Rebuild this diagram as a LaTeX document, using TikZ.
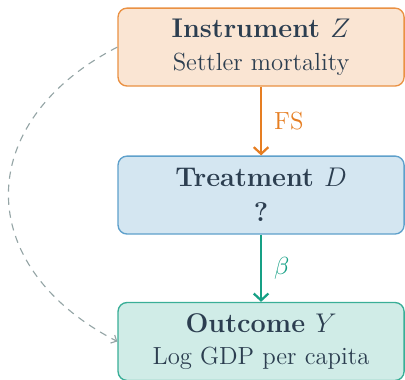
\documentclass[tikz,border=0pt]{standalone}
\usepackage{amsmath, amssymb}
\usepackage{xcolor}
\usepackage{tikz}
\usetikzlibrary{arrows.meta, positioning}

\definecolor{ivorange}{HTML}{E67E22}
\definecolor{ivblue}{HTML}{2980B9}
\definecolor{ivgreen}{HTML}{16A085}
\definecolor{ivtext}{HTML}{2C3E50}
\definecolor{ivgray}{HTML}{95A5A6}

\tikzset{
  ivbox/.style={draw, rounded corners=4pt, line width=0.6pt,
                minimum width=127pt, minimum height=34.6pt,
                align=center, text=ivtext, inner sep=2pt,
                font=\fontsize{11}{13}\selectfont},
  ivarrow/.style={line width=1pt, -{Straight Barb[length=3pt,width=6.5pt]}}
}

\begin{document}
\begin{tikzpicture}[x=1pt, y=1pt]
  \useasboundingbox (0,0) rectangle (179.8,-168.7);
  \node[ivbox, draw=ivorange!85, fill=ivorange!20] (inst) at (115.9,-20.9)
    {{\large\textbf{Instrument $Z$}}\\[1.5pt] Settler mortality};
  \node[ivbox, draw=ivblue!75, fill=ivblue!20] (treat) at (115.9,-86.6)
    {{\large\textbf{Treatment $D$}}\\[2.5pt] {\large\textbf{?}}};
  \node[ivbox, draw=ivgreen!85, fill=ivgreen!20] (outc) at (115.9,-151.6)
    {{\large\textbf{Outcome $Y$}}\\[1.5pt] Log GDP per capita};

  \draw[ivarrow, ivorange] (inst) -- node[right=2pt, text=ivorange,
    font=\fontsize{11}{13}\selectfont] {FS} (treat);
  \draw[ivarrow, ivgreen] (treat) -- node[right=2pt, text=ivgreen,
    font=\fontsize{11}{13}\selectfont] {$\beta$} (outc);

  % exclusion path, dashed
  \draw[ivgray, line width=0.5pt, dash pattern=on 3.2pt off 2.6pt,
        -{Straight Barb[length=2pt,width=4pt]}]
    (inst.west) .. controls +(-64.4,-33.3) and +(-64.4,33.3) .. (outc.west);
\end{tikzpicture}
\end{document}
